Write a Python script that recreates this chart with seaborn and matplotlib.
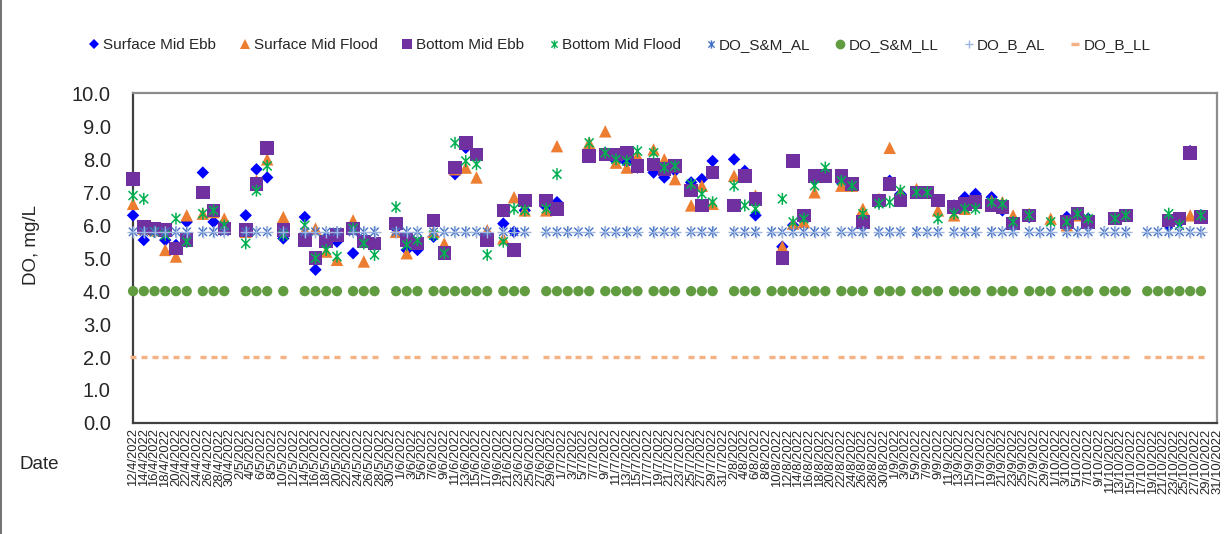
import numpy as np
import pandas as pd
import matplotlib
matplotlib.use("Agg")
import matplotlib.pyplot as plt
import seaborn as sns
from matplotlib.lines import Line2D
from matplotlib.path import Path

# ---------------------------------------------------------------------------
# Data
# ---------------------------------------------------------------------------

axis_start = "12/4/2022"
axis_end   = "31/10/2022"

sample_dates = [
    "12/4", "14/4", "16/4", "18/4", "20/4", "22/4", "25/4", "27/4", "29/4",
    "3/5", "5/5", "7/5", "10/5", "14/5", "16/5", "18/5", "20/5", "23/5", "25/5", "27/5", "31/5",
    "2/6", "4/6", "7/6", "9/6", "11/6", "13/6", "15/6", "17/6", "20/6", "22/6", "24/6", "28/6", "30/6",
    "2/7", "4/7", "6/7", "9/7", "11/7", "13/7", "15/7", "18/7", "20/7", "22/7", "25/7", "27/7", "29/7",
    "2/8", "4/8", "6/8", "9/8", "11/8", "13/8", "15/8", "17/8", "19/8", "22/8", "24/8", "26/8", "29/8", "31/8",
    "2/9", "5/9", "7/9", "9/9", "12/9", "14/9", "16/9", "19/9", "21/9", "23/9", "26/9", "28/9", "30/9",
    "3/10", "5/10", "7/10", "10/10", "12/10", "14/10", "18/10", "20/10", "22/10", "24/10", "26/10", "28/10",
]

nan = np.nan

surface_mid_ebb = [
    6.3, 5.55, 5.8, 5.55, 5.4, 6.1, 7.6, 6.1, 5.9,
    6.3, 7.7, 7.45, 5.6, 6.25, 4.65, 5.6, 5.5, 5.15, 5.5, 5.4, 5.9,
    5.25, 5.25, 5.65, 5.3, 7.55, 8.35, 8.1, 5.6, 6.05, 5.8, 6.45, 6.55, 6.7,
    nan, nan, 8.15, 8.2, 7.95, 7.9, 7.75, 7.6, 7.45, 7.65, 7.3, 7.4, 7.95,
    8.0, 7.65, 6.3, nan, 5.35, 6.0, nan, 7.4, 7.5, 7.3, 7.2, 6.2, 6.7, 7.35,
    6.95, 7.0, 7.0, 6.7, 6.6, 6.85, 6.95, 6.85, 6.45, 6.05, 6.25, nan, nan,
    6.25, nan, 6.2, nan, nan, nan, nan, nan, 6.0, 6.1, 8.25, 6.3,
]
surface_mid_flood = [
    6.65, 5.9, 5.85, 5.25, 5.05, 6.3, 6.35, 6.4, 6.2,
    5.8, 7.35, 8.0, 6.25, 5.85, 5.9, 5.2, 4.95, 6.15, 4.9, 5.5, 5.8,
    5.15, 5.45, 5.8, 5.45, 7.7, 7.75, 7.45, 5.85, 5.6, 6.85, 6.45, 6.45, 8.4,
    nan, nan, 8.5, 8.85, 7.9, 7.75, 8.1, 8.3, 8.0, 7.4, 6.6, 7.2, 6.65,
    7.5, 7.5, 6.9, nan, 5.35, 6.05, 6.1, 7.0, 7.5, 7.2, 7.2, 6.5, 6.8, 8.35,
    7.0, 7.1, 7.0, 6.45, 6.3, 6.5, 6.7, 6.75, 6.7, 6.3, 6.35, nan, 6.2,
    6.0, 6.3, 6.1, nan, 6.2, nan, nan, nan, nan, nan, 6.3, 6.25,
]
bottom_mid_ebb = [
    7.4, 5.95, 5.9, 5.85, 5.3, 5.55, 7.0, 6.45, 5.9,
    5.85, 7.25, 8.35, 5.85, 5.55, 5.0, 5.5, 5.7, 5.9, 5.5, 5.45, 6.05,
    5.55, 5.45, 6.15, 5.15, 7.75, 8.5, 8.15, 5.55, 6.45, 5.25, 6.75, 6.75, 6.5,
    nan, nan, 8.1, 8.15, 8.15, 8.2, 7.8, 7.85, 7.7, 7.8, 7.05, 6.6, 7.6,
    6.6, 7.5, 6.8, nan, 5.0, 7.95, 6.3, 7.5, 7.5, 7.5, 7.25, 6.1, 6.75, 7.25,
    6.75, 7.0, 7.0, 6.75, 6.55, 6.65, 6.7, 6.6, 6.55, 6.05, 6.3, nan, nan,
    6.1, 6.35, 6.1, nan, 6.2, 6.3, nan, nan, 6.15, 6.2, 8.2, 6.25,
]
bottom_mid_flood = [
    6.9, 6.8, 5.8, 5.7, 6.2, 5.5, 6.35, 6.45, 6.0,
    5.45, 7.05, 7.8, 5.7, 6.0, 5.0, 5.25, 5.05, 5.9, 5.45, 5.1, 6.55,
    5.4, 5.55, 5.7, 5.15, 8.5, 7.95, 7.85, 5.1, 5.5, 6.5, 6.45, 6.5, 7.55,
    nan, nan, 8.5, 8.2, 8.0, 7.95, 8.25, 8.2, 7.75, 7.8, 7.25, 6.95, 6.7,
    7.2, 6.6, 6.5, nan, 6.8, 6.1, 6.2, 7.2, 7.75, 7.35, 7.2, 6.35, 6.65, 6.7,
    7.05, 7.0, 7.0, 6.2, 6.35, 6.5, 6.5, 6.7, 6.65, 6.1, 6.3, nan, 6.1,
    6.1, 6.35, 6.2, nan, 6.2, 6.3, nan, nan, 6.35, 6.0, nan, 6.3,
]

do_sm_al = 5.8   # action level, surface & middle
do_sm_ll = 4.0   # limit level, surface & middle
do_b_al  = 5.8   # action level, bottom
do_b_ll  = 2.0   # limit level, bottom

# ---------------------------------------------------------------------------
# Build dataframe on a day-number axis
# ---------------------------------------------------------------------------

t0    = pd.to_datetime(axis_start, format="%d/%m/%Y")
t1    = pd.to_datetime(axis_end, format="%d/%m/%Y")
dates = pd.to_datetime([d + "/2022" for d in sample_dates], format="%d/%m/%Y")
day   = (dates - t0).days

df = pd.DataFrame({
    "day": day,
    "Surface Mid Ebb": surface_mid_ebb,
    "Surface Mid Flood": surface_mid_flood,
    "Bottom Mid Ebb": bottom_mid_ebb,
    "Bottom Mid Flood": bottom_mid_flood,
    "DO_S&M_AL": do_sm_al,
    "DO_S&M_LL": do_sm_ll,
    "DO_B_AL": do_b_al,
    "DO_B_LL": do_b_ll,
})

# Excel-style star marker: an X with a vertical bar through it
star = Path([(0, -1), (0, 1), (-0.75, -0.75), (0.75, 0.75), (-0.75, 0.75), (0.75, -0.75)],
            [Path.MOVETO, Path.LINETO, Path.MOVETO, Path.LINETO, Path.MOVETO, Path.LINETO])

styles = {
    #  name               marker  colour     size  filled  lw
    "Surface Mid Ebb":   ("D",    "#0000FF", 40,   True,   0),
    "Surface Mid Flood": ("^",    "#ED7D31", 80,   True,   0),
    "Bottom Mid Ebb":    ("s",    "#7030A0", 95,   True,   0),
    "Bottom Mid Flood":  (star,   "#00B050", 75,   False,  1.1),
    "DO_S&M_AL":         (star,   "#4472C4", 65,   False,  1.0),
    "DO_S&M_LL":         ("o",    "#629C41", 55,   True,   0),
    "DO_B_AL":           ("+",    "#9DB5E0", 75,   False,  1.0),
    "DO_B_LL":           ("_",    "#F4B183", 20,   False,  2.4),
}

# ---------------------------------------------------------------------------
# Plot
# ---------------------------------------------------------------------------

sns.set_style("white")
plt.rcParams["font.family"] = ["Liberation Sans", "DejaVu Sans"]

fig, ax = plt.subplots(figsize=(12.24, 5.34), dpi=100)
fig.subplots_adjust(left=0.1087, right=0.9943, top=0.825, bottom=0.208)

for z, (name, (mk, col, size, filled, lw)) in enumerate(styles.items()):
    kws = dict(marker=mk, s=size, ax=ax, zorder=3 + z, clip_on=False)
    if filled:
        kws.update(color=col, edgecolor="none", linewidth=0)
    elif isinstance(mk, Path):
        kws.update(facecolor="none", edgecolor=col, linewidth=lw)
    else:
        kws.update(color=col, edgecolor=None, linewidth=lw)
    sns.scatterplot(data=df, x="day", y=name, **kws)

n_days = (t1 - t0).days
ax.set_xlim(0, n_days)
ax.set_ylim(0, 10)

tick_days  = np.arange(0, n_days + 1, 2)
tick_dates = [t0 + pd.Timedelta(days=int(d)) for d in tick_days]
ax.set_xticks(tick_days)
ax.set_xticklabels([f"{d.day}/{d.month}/{d.year}" for d in tick_dates],
                   rotation=90, fontsize=9.4)
ax.set_xticks(np.arange(0, n_days + 1), minor=True)
ax.set_yticks(np.arange(0, 10.01, 1.0))
ax.set_yticklabels([f"{v:.1f}" for v in np.arange(0, 10.01, 1.0)], fontsize=14.5)

ax.tick_params(axis="x", which="both", direction="in", length=4, width=0.8,
               color="#404040", pad=4)
ax.tick_params(axis="y", direction="in", length=6, width=1, color="#404040", pad=16)

for side in ["left", "bottom"]:
    ax.spines[side].set_color("#404040")
    ax.spines[side].set_linewidth(1.6)
for side in ["top", "right"]:
    ax.spines[side].set_color("#8C8C8C")
    ax.spines[side].set_linewidth(1.6)

ax.set_xlabel("")
ax.set_ylabel("DO, mg/L", fontsize=13.5)
ax.yaxis.set_label_coords(-0.086, 0.54)
fig.text(0.016, 0.13, "Date", fontsize=13.5, ha="left", va="center")

# legend with small Excel-like markers
legend_ms = {"D": 5, "^": 7, "s": 7, "o": 7, "+": 6, "_": 6}
handles = []
for name, (mk, col, size, filled, lw) in styles.items():
    ms = legend_ms.get(mk, 6) if isinstance(mk, str) else 6
    if isinstance(mk, Path):
        h = Line2D([], [], ls="none", marker=mk, markerfacecolor="none",
                   markeredgecolor=col, markersize=ms, markeredgewidth=1.0)
    else:
        h = Line2D([], [], ls="none", marker=mk, color=col, markersize=ms,
                   markeredgewidth=0 if filled else max(lw, 1.0))
    handles.append(h)
fig.legend(handles, list(styles.keys()), loc="center left",
           bbox_to_anchor=(0.062, 0.916), ncol=8, frameon=False, fontsize=11,
           handlelength=0.6, handletextpad=0.25, columnspacing=1.65)

fig.add_artist(Line2D([0.001, 0.001], [0, 1], transform=fig.transFigure,
                      color="#595959", linewidth=1.2))

fig.savefig("out.png", dpi=100)
